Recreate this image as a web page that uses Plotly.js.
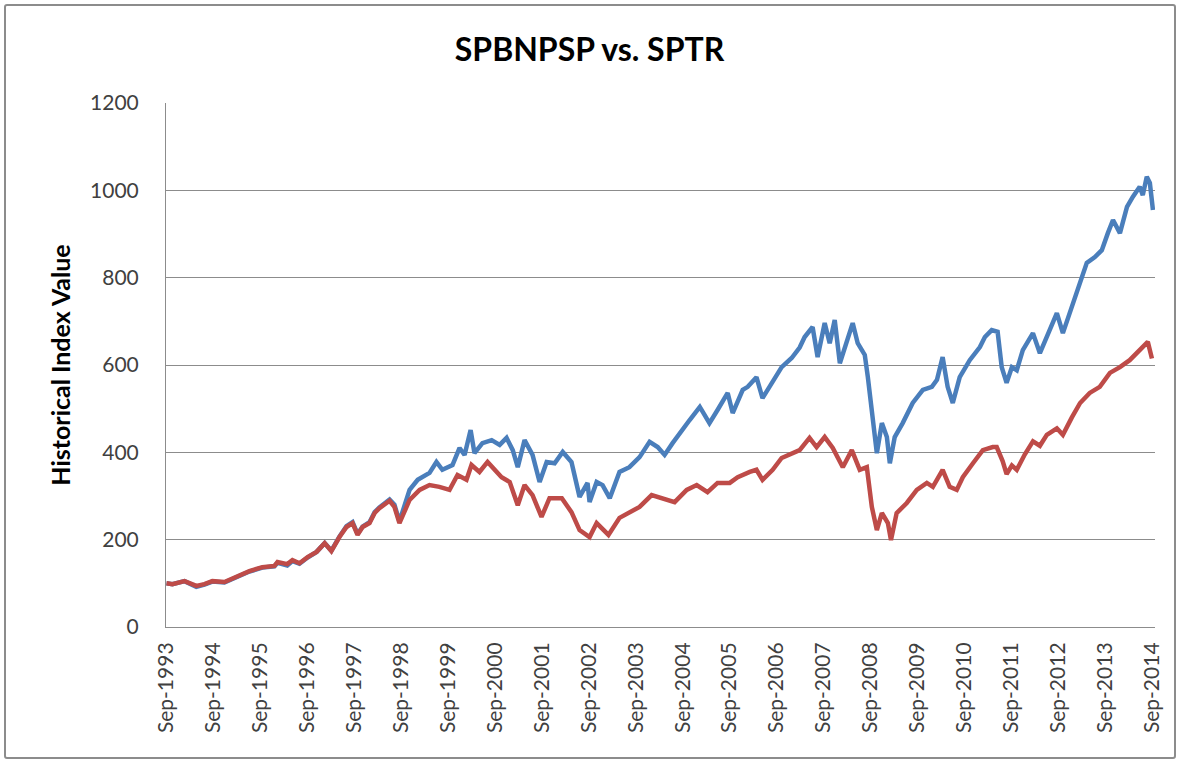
<!DOCTYPE html>
<html>
<head>
<meta charset="utf-8">
<script src="https://cdn.plot.ly/plotly-3.0.1.min.js"></script>
<style>
  html, body { margin: 0; padding: 0; background: #ffffff; }
  #wrap { position: relative; width: 1179px; height: 761px; }
  #chart { width: 1179px; height: 761px; }
  #frame { position: absolute; left: 4px; top: 4px; width: 1168px; height: 751px;
           border: 2px solid #8c8c8c; border-radius: 3px; pointer-events: none; }
</style>
</head>
<body>
<div id="wrap">
  <div id="chart"></div>
  <div id="frame"></div>
</div>
<script>
// ---- data ----
const chartTitle = "SPBNPSP vs. SPTR";
const yTitle = "Historical Index Value";

const blueName = "SPBNPSP";
const blueDates = [
  "1993-09-01","1993-10-17","1994-01-19","1994-04-21","1994-06-23","1994-08-24","1994-11-26",
  "1995-02-28","1995-06-08","1995-09-17","1995-12-20","1996-01-13","1996-03-29","1996-05-08",
  "1996-07-02","1996-09-03","1996-11-12","1997-01-14","1997-03-07","1997-05-09","1997-07-03",
  "1997-08-19","1997-09-27","1997-11-05","1997-12-29","1998-02-07","1998-03-16","1998-06-03",
  "1998-07-11","1998-08-19","1998-09-28","1998-11-06","1999-01-08","1999-04-10","1999-06-03",
  "1999-07-19","1999-10-06","1999-11-30","2000-01-08","2000-02-24","2000-03-25","2000-05-26",
  "2000-08-06","2000-10-07","2000-11-30","2001-01-17","2001-02-25","2001-04-19","2001-06-20",
  "2001-08-14","2001-10-08","2001-12-09","2002-02-10","2002-04-19","2002-06-21","2002-08-22",
  "2002-09-07","2002-11-01","2002-12-17","2003-02-11","2003-04-28","2003-07-14","2003-10-01",
  "2003-12-18","2004-02-19","2004-04-13","2004-06-14","2004-08-24","2004-10-25","2005-01-12",
  "2005-03-28","2005-05-30","2005-08-17","2005-09-25","2005-12-12","2006-01-20","2006-03-29",
  "2006-05-15","2006-08-02","2006-10-11","2006-12-28","2007-02-28","2007-04-08","2007-06-09",
  "2007-07-18","2007-09-11","2007-10-20","2007-11-28","2008-01-07","2008-02-29","2008-04-16",
  "2008-05-25","2008-07-19","2008-08-12","2008-09-12","2008-10-21","2008-11-29","2009-01-07",
  "2009-01-30","2009-03-09","2009-05-10","2009-07-27","2009-10-14","2009-12-23","2010-02-01",
  "2010-03-17","2010-04-25","2010-06-04","2010-07-28","2010-10-14","2011-01-01","2011-02-09",
  "2011-04-03","2011-05-19","2011-06-20","2011-07-28","2011-09-07","2011-10-15","2011-12-01",
  "2012-02-18","2012-04-12","2012-06-05","2012-08-22","2012-10-08","2012-12-17","2013-01-26",
  "2013-03-04","2013-04-12","2013-06-14","2013-08-07","2013-09-23","2013-11-02","2013-12-26",
  "2014-02-19","2014-04-05","2014-05-29","2014-06-22","2014-07-23","2014-08-16","2014-09-09"
];
const blueValues = [
  100,98,105,92,97,104,102,
  114,127,136,139,147,141,151,
  145,159,172,192,175,207,231,
  240,213,230,240,263,274,292,
  280,242,275,314,337,353,378,
  360,371,410,394,451,398,421,
  428,417,433,405,366,428,394,
  332,378,375,401,378,298,330,
  286,332,325,295,355,366,389,
  424,412,394,421,451,474,504,
  467,497,536,490,543,550,572,
  524,561,595,616,640,664,687,
  618,696,650,703,604,650,696,
  650,623,572,490,398,467,435,
  375,435,467,513,543,550,566,
  618,550,513,572,611,641,664,
  680,676,595,559,595,588,634,
  673,627,664,719,673,733,765,
  795,834,847,863,902,932,902,
  962,985,1008,989,1031,1017,955
];

const redName = "SPTR";
const redDates = [
  "1993-09-01","1993-10-17","1994-01-19","1994-04-21","1994-06-23","1994-08-24","1994-11-26",
  "1995-02-28","1995-06-08","1995-09-17","1995-12-20","1996-01-13","1996-03-29","1996-05-08",
  "1996-07-02","1996-09-03","1996-11-12","1997-01-14","1997-03-07","1997-05-09","1997-07-03",
  "1997-08-19","1997-09-27","1997-11-05","1997-12-29","1998-02-07","1998-03-16","1998-06-03",
  "1998-07-11","1998-08-19","1998-09-28","1998-11-06","1999-01-23","1999-04-10","1999-06-26",
  "1999-09-13","1999-11-14","2000-01-23","2000-03-02","2000-05-03","2000-07-05","2000-08-29",
  "2000-10-22","2000-12-24","2001-02-25","2001-04-19","2001-06-20","2001-08-29","2001-10-30",
  "2002-02-03","2002-04-19","2002-06-21","2002-09-07","2002-11-01","2003-02-01","2003-04-28",
  "2003-07-14","2003-10-01","2004-01-03","2004-03-20","2004-06-30","2004-10-02","2004-12-19",
  "2005-03-13","2005-05-30","2005-09-02","2005-11-03","2006-02-05","2006-03-29","2006-05-15",
  "2006-08-02","2006-10-11","2006-12-28","2007-02-28","2007-05-16","2007-07-10","2007-09-11",
  "2007-11-13","2008-01-30","2008-04-09","2008-06-10","2008-08-04","2008-09-12","2008-10-21",
  "2008-11-29","2009-01-15","2009-02-08","2009-03-24","2009-06-11","2009-08-28","2009-11-14",
  "2009-12-31","2010-03-17","2010-05-11","2010-07-05","2010-08-21","2010-11-08","2011-01-24",
  "2011-04-11","2011-05-12","2011-06-27","2011-07-28","2011-09-07","2011-10-15","2011-12-16",
  "2012-02-18","2012-04-12","2012-06-05","2012-08-22","2012-10-08","2012-12-17","2013-02-19",
  "2013-05-05","2013-07-22","2013-10-09","2013-12-26","2014-03-12","2014-05-29","2014-07-31",
  "2014-09-01"
];
const redValues = [
  100,98,105,94,98,105,103,
  115,128,137,140,149,144,153,
  146,160,172,192,174,206,229,
  238,211,229,238,261,272,289,
  275,238,268,291,314,325,321,
  314,348,337,371,355,378,360,
  343,332,279,325,302,252,295,
  295,263,222,206,238,211,250,
  263,275,302,295,286,314,325,
  309,330,330,343,355,360,337,
  360,387,398,405,433,412,435,
  410,366,405,360,366,275,222,
  261,238,199,261,284,314,330,
  321,360,321,314,343,375,405,
  412,412,380,350,370,360,395,
  425,415,440,455,440,480,513,
  536,550,582,595,611,634,653,
  615
];

const tickYears = [1993,1994,1995,1996,1997,1998,1999,2000,2001,2002,2003,
                   2004,2005,2006,2007,2008,2009,2010,2011,2012,2013,2014];
const tickDates = tickYears.map(y => y + "-09-01");
const tickLabels = tickYears.map(y => "Sep-" + y);
const yTicks = [0,200,400,600,800,1000,1200];

// ---- chart ----
const FONT = "Lato, 'Open Sans', sans-serif";
const traces = [
  { x: blueDates, y: blueValues, name: blueName, type: "scatter", mode: "lines",
    line: { color: "#4A7EBB", width: 4.5 } },
  { x: redDates, y: redValues, name: redName, type: "scatter", mode: "lines",
    line: { color: "#BE4B48", width: 4.5 } }
];

const layout = {
  width: 1179, height: 761,
  margin: { l: 166, r: 24, t: 103, b: 134 },
  paper_bgcolor: "#ffffff", plot_bgcolor: "#ffffff",
  showlegend: false,
  font: { family: FONT, color: "#404040" },
  title: { text: "<b>" + chartTitle + "</b>", font: { family: FONT, size: 32, color: "#000000" },
           x: 0.5, xref: "container", y: 1 - 50/761, yref: "container", yanchor: "middle" },
  xaxis: {
    type: "date",
    range: ["1993-08-28", "2014-09-25"],
    tickmode: "array", tickvals: tickDates, ticktext: tickLabels,
    tickangle: -90, tickfont: { family: FONT, size: 21, color: "#404040" },
    ticks: "", showgrid: false, zeroline: false,
    showline: true, linecolor: "#8c8c8c", linewidth: 1,
    ticklabelstandoff: 6
  },
  yaxis: {
    range: [0, 1200], tickmode: "array", tickvals: yTicks,
    tickfont: { family: FONT, size: 21, color: "#404040" },
    showgrid: true, gridcolor: "#8c8c8c", gridwidth: 1,
    zeroline: false, showline: true, linecolor: "#8c8c8c", linewidth: 1,
    ticks: "", ticklabelstandoff: 22,
    title: { text: "<b>" + yTitle + "</b>", font: { family: FONT, size: 25, color: "#000000" },
             standoff: 12 }
  }
};

Plotly.newPlot("chart", traces, layout, { staticPlot: true, displayModeBar: false });
</script>
</body>
</html>
